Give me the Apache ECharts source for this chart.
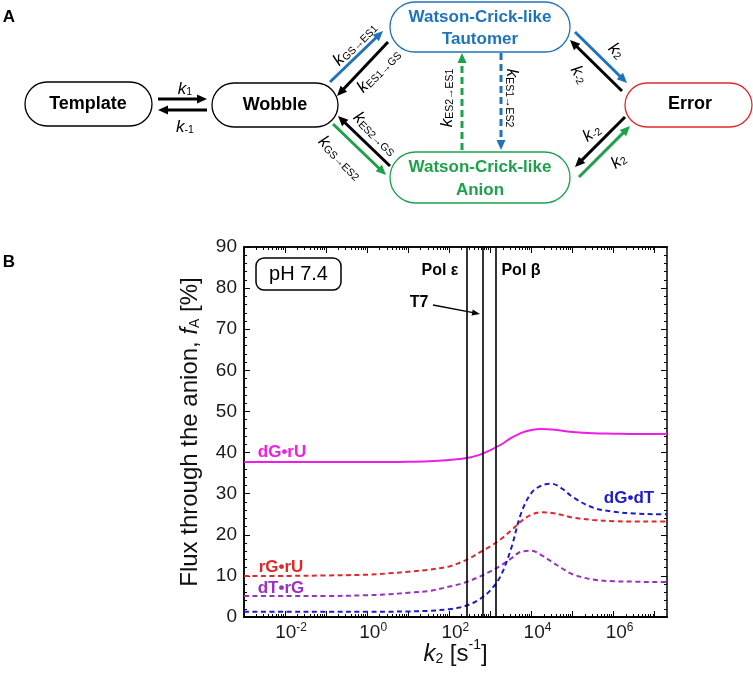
<!DOCTYPE html>
<html>
<head>
<meta charset="utf-8">
<script src="https://cdn.jsdelivr.net/npm/echarts@6/dist/echarts.min.js"></script>
<style>
  html, body { margin: 0; padding: 0; background: #fff; }
  #chart { width: 753px; height: 679px; }
</style>
</head>
<body>
<div id="chart"></div>
<script>
// k2 as log10 exponent, flux through the anion in %
const k2Exp = [-3, -2, -1, 0, 0.5, 1, 1.5, 2, 2.25, 2.5, 2.75, 3, 3.25, 3.5, 3.75, 4, 4.25, 4.5, 4.75, 5, 5.5, 6, 6.5, 7, 7.3]
const dGrU = [37.7, 37.7, 37.7, 37.7, 37.7, 37.75, 37.9, 38.2, 38.45, 38.8, 39.5, 40.6, 41.9, 43.5, 44.8, 45.5, 45.7, 45.6, 45.3, 45.0, 44.7, 44.6, 44.5, 44.5, 44.5]
const dGdT = [1.3, 1.3, 1.3, 1.3, 1.3, 1.35, 1.5, 1.9, 2.3, 3.1, 4.4, 6.5, 10.0, 16.5, 25.3, 30.2, 32.0, 32.4, 31.2, 29.2, 26.6, 25.6, 25.2, 25.0, 25.0]
const rGrU = [10.0, 10.0, 10.1, 10.3, 10.6, 11.0, 11.5, 12.3, 13.2, 14.3, 15.8, 17.2, 18.9, 21.0, 23.3, 24.9, 25.5, 25.3, 24.8, 24.2, 23.6, 23.3, 23.2, 23.2, 23.2]
const dTrG = [5.1, 5.1, 5.1, 5.3, 5.5, 5.9, 6.3, 7.4, 8.0, 8.8, 9.9, 11.1, 12.5, 14.2, 15.9, 16.1, 15.0, 13.4, 11.8, 10.4, 9.1, 8.7, 8.6, 8.5, 8.5]
// polymerase k2 values (s^-1): Pol eps, T7, Pol beta
const polK2 = [265, 650, 1350]
const xLabelExp = [-2, 0, 2, 4, 6]

const FONT = 'Liberation Sans, Arial, sans-serif'
const BLUE = '#1f74b9'
const GREEN = '#1da24b'
const RED_BOX = '#e0282d'

const decades = []
const minors = []
for (let n = -3; n <= 7; n++) {
    decades.push(n)
    for (let m = 2; m <= 9; m++) {
        const v = n + Math.log10(m)
        if (v < 7.3) minors.push(v)
    }
}

function pairs(ys) {
    return k2Exp.map((x, i) => [x, ys[i]])
}

function arrow(x1, y1, x2, y2, color, opts) {
    opts = opts || {}
    const w = opts.width || 3, hl = opts.head || 10, hw = opts.half || 4.5
    const dx = x2 - x1, dy = y2 - y1, L = Math.hypot(dx, dy)
    const ux = dx / L, uy = dy / L
    const bx = x2 - ux * hl, by = y2 - uy * hl
    return [
        { type: 'line', silent: true, shape: { x1: x1, y1: y1, x2: bx + ux, y2: by + uy },
          style: { stroke: color, lineWidth: w, lineDash: opts.dash || null } },
        { type: 'polygon', silent: true,
          shape: { points: [[x2, y2], [bx - uy * hw, by + ux * hw], [bx + uy * hw, by - ux * hw]] },
          style: { fill: color } }
    ]
}

function box(x, y, w, h, stroke) {
    return { type: 'rect', silent: true, shape: { x: x, y: y, width: w, height: h, r: h / 2 },
             style: { fill: '#fff', stroke: stroke, lineWidth: 1.3 } }
}

function txt(x, y, text, size, color, font) {
    return { type: 'text', silent: true, x: x, y: y,
             style: { text: text, font: font || ('bold ' + size + 'px ' + FONT), fill: color,
                      align: 'center', verticalAlign: 'middle', textAlign: 'center', textVerticalAlign: 'middle' } }
}

const kRich = {
    k: { fontFamily: FONT, fontStyle: 'italic', fontSize: 17, color: '#111', verticalAlign: 'bottom', lineHeight: 20 },
    s: { fontFamily: FONT, fontSize: 10.5, color: '#111', verticalAlign: 'bottom', lineHeight: 14 }
}
function kLabel(x, y, sub, rot) {
    return { type: 'text', silent: true, x: x, y: y, rotation: rot || 0,
             style: { text: '{k|k}{s|' + sub + '}', rich: kRich, align: 'center', verticalAlign: 'middle',
                      textAlign: 'center', textVerticalAlign: 'middle' } }
}

const R45 = Math.PI / 4
const graphics = [].concat(
    // panel A
    [txt(9, 17, 'A', 17, '#000'), txt(9, 262, 'B', 17, '#000')],
    arrow(158, 99, 207, 99, '#000'),
    arrow(207, 110, 158, 110, '#000'),
    arrow(330, 82, 383, 31, BLUE),
    arrow(388, 42, 337, 96, '#000'),
    arrow(333, 124, 386, 175, GREEN),
    arrow(390, 166, 338, 116, '#000'),
    arrow(575, 32, 627, 83, BLUE),
    arrow(622, 91, 570, 40, '#000'),
    arrow(625, 117, 575, 167, '#000'),
    arrow(579, 177, 630, 126, GREEN),
    arrow(462, 150, 462, 53, GREEN, { dash: [7, 4] }),
    arrow(501, 53, 501, 150, BLUE, { dash: [7, 4] }),
    [
        box(25, 82, 127, 44, '#000'),
        box(212, 83, 126, 44, '#000'),
        box(390, 2, 180, 50, BLUE),
        box(390, 152, 180, 51, GREEN),
        box(625, 83, 127, 44, RED_BOX),
        txt(88, 104, 'Template', 18, '#000'),
        txt(275, 105, 'Wobble', 18, '#000'),
        txt(480, 17, 'Watson-Crick-like', 17, BLUE),
        txt(480, 39, 'Tautomer', 17, BLUE),
        txt(480, 167, 'Watson-Crick-like', 17, GREEN),
        txt(480, 190, 'Anion', 17, GREEN),
        txt(690, 104, 'Error', 18, '#000'),
        kLabel(185, 88, '1', 0),
        kLabel(185, 126, '-1', 0),
        kLabel(354, 43, 'GS→ES1', R45),
        kLabel(378, 70, 'ES1→GS', R45),
        kLabel(376, 133, 'ES2→GS', -R45),
        kLabel(341, 157, 'GS→ES2', -R45),
        kLabel(446, 98, 'ES2→ES1', Math.PI / 2),
        kLabel(513, 98, 'ES1→ES2', -Math.PI / 2),
        kLabel(617, 50, '2', -R45),
        kLabel(580, 74, '-2', -Math.PI / 3),
        kLabel(591, 132, '-2', 0.6),
        kLabel(618, 160, '2', 0.6)
    ],
    // panel B annotations
    [
        { type: 'rect', silent: true, shape: { x: 256, y: 258, width: 85, height: 32, r: 8 },
          style: { fill: '#fff', stroke: '#000', lineWidth: 1.5 } },
        txt(298.5, 274.5, 'pH 7.4', 20, '#000', '20px ' + FONT),
        txt(440, 271, 'Pol ε', 16, '#000'),
        txt(521, 271, 'Pol β', 16, '#000'),
        txt(419, 303, 'T7', 16, '#000'),
        txt(282, 452, 'dG•rU', 17, '#ee1ee6'),
        txt(281, 567, 'rG•rU', 17, '#e3262a'),
        txt(281, 588, 'dT•rG', 17, '#9c2fc4'),
        txt(629, 498, 'dG•dT', 17, '#1c1cc8')
    ],
    arrow(433, 305, 480, 314, '#000', { width: 1.3, head: 8, half: 3 })
)

const axisText = { fontFamily: FONT, fontSize: 19, color: '#1a1a1a' }
const titleRich = {
    b: { fontFamily: FONT, fontSize: 24, color: '#111', lineHeight: 28, verticalAlign: 'bottom' },
    i: { fontFamily: FONT, fontSize: 24, fontStyle: 'italic', color: '#111', lineHeight: 28, verticalAlign: 'bottom' },
    s: { fontFamily: FONT, fontSize: 14, color: '#111', lineHeight: 20, verticalAlign: 'bottom' },
    sup: { fontFamily: FONT, fontSize: 14, color: '#111', lineHeight: 28, verticalAlign: 'top' }
}

// tick-only axes (labels and titles live on their own axes)
function xTickAxis(position, ticks, len) {
    return {
        type: 'value', position: position, min: -3, max: 7.3,
        axisLine: { show: true, onZero: false, lineStyle: { color: '#000', width: 1.5 } },
        axisTick: { show: true, inside: true, length: len, customValues: ticks, lineStyle: { color: '#000', width: 1 } },
        axisLabel: { show: false },
        splitLine: { show: false }
    }
}
function yTickAxis(position) {
    return {
        type: 'value', position: position, min: 0, max: 90, interval: 10,
        axisLine: { show: true, onZero: false, lineStyle: { color: '#000', width: 1.5 } },
        axisTick: { show: true, inside: true, length: 6, lineStyle: { color: '#000', width: 1 } },
        minorTick: { show: true, splitNumber: 5, length: 3, lineStyle: { color: '#000', width: 1 } },
        axisLabel: { show: false },
        splitLine: { show: false }
    }
}

const xMain = {
    type: 'value', position: 'bottom', min: -3, max: 7.3,
    axisLine: { show: true, onZero: false, lineStyle: { color: '#000', width: 1.5 } },
    axisTick: { show: false },
    splitLine: { show: false },
    axisLabel: {
        show: true, customValues: xLabelExp, margin: 5, padding: [0, 0, 0, 12],
        formatter: v => '{b|10}{sup|' + v + '}',
        rich: {
            b: Object.assign({ lineHeight: 22 }, axisText),
            sup: { fontFamily: FONT, fontSize: 12, color: '#1a1a1a', verticalAlign: 'top', lineHeight: 22 }
        }
    },
    name: '{i|k}{s|2}{b| [s}{sup|-1}{b|]}',
    nameLocation: 'middle',
    nameGap: 21,
    nameMoveOverlap: false,
    nameTextStyle: { rich: titleRich }
}
const yMain = {
    type: 'value', position: 'left', min: 0, max: 90, interval: 10,
    axisLine: { show: true, onZero: false, lineStyle: { color: '#000', width: 1.5 } },
    axisTick: { show: false },
    splitLine: { show: false },
    axisLabel: Object.assign({ show: true, margin: 7 }, axisText),
    name: '{b|Flux through the anion, }{i|f}{s|A}{b| [%]}',
    nameLocation: 'middle',
    nameRotate: 90,
    nameGap: 42,
    nameMoveOverlap: false,
    nameTextStyle: { rich: titleRich }
}

function curve(name, ys, color, dashed) {
    return {
        name: name, type: 'line', data: pairs(ys), smooth: 0.35, symbol: 'none',
        xAxisIndex: 0, yAxisIndex: 0,
        lineStyle: { color: color, width: 2, type: dashed ? [5, 3.5] : 'solid' }
    }
}

const chart = echarts.init(document.getElementById('chart'))
const series = [
    curve('dG•rU', dGrU, '#ee1ee6', false),
    curve('rG•rU', rGrU, '#e3262a', true),
    curve('dT•rG', dTrG, '#9c2fc4', true),
    curve('dG•dT', dGdT, '#1c1cc8', true)
]
series[0].markLine = {
    silent: true, symbol: 'none', label: { show: false },
    lineStyle: { color: '#000', width: 1.6, type: 'solid' },
    data: polK2.map(k => ({ xAxis: Math.log10(k) }))
}

chart.setOption({
    animation: false,
    grid: { left: 244, top: 247, width: 423, height: 370 },
    xAxis: [
        xMain,
        xTickAxis('bottom', decades, 6),
        xTickAxis('bottom', minors, 3),
        xTickAxis('top', decades, 6),
        xTickAxis('top', minors, 3)
    ],
    yAxis: [yMain, yTickAxis('left'), yTickAxis('right')],
    series: series,
    graphic: { elements: graphics }
})
</script>
</body>
</html>
